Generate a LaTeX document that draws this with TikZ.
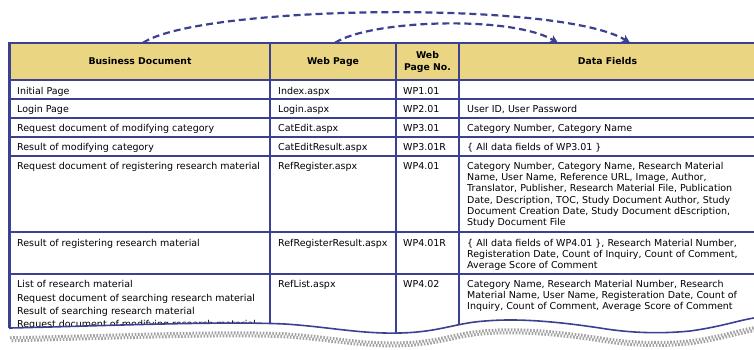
\documentclass[tikz,border=0pt]{standalone}
\usepackage{fontspec}
\setmainfont{DejaVu Sans}
\usetikzlibrary{arrows.meta}
\definecolor{rulec}{RGB}{60,64,145}
\definecolor{headc}{RGB}{234,214,130}
\definecolor{stripc}{RGB}{140,140,140}
\tikzset{
  hcell/.style={fill=headc, draw=none, inner sep=0, align=center,
    font=\fontsize{9.3}{12}\selectfont\bfseries},
  cell/.style={anchor=north west, inner sep=0, align=left,
    font=\fontsize{9.5}{11.1}\selectfont},
  listcell/.style={cell, font=\fontsize{9.5}{13.3}\selectfont},
  rowline/.style={draw=rulec, line width=1.3pt},
  colline/.style={draw=rulec, line width=1.3pt},
  frame/.style={draw=rulec, line width=2.6pt},
  wave/.style={draw=rulec, line width=1.6pt},
  strip/.style={draw=stripc!80, line width=3pt, dash pattern=on 1.6pt off 1.6pt},
  link/.style={draw=rulec, line width=2.2pt, dash pattern=on 7pt off 4pt,
    -{Stealth[length=8pt,width=8pt,inset=2pt]}},
  torn/.style={insert path={
    .. controls (100,326) and (220,321) .. (285,324)
    .. controls (330,327) and (360,334) .. (400,333)
    .. controls (440,332) and (455,323) .. (485,321)
    .. controls (520,318) and (560,322) .. (600,328)
    .. controls (630,333) and (660,334) .. (690,331)
    .. controls (720,327) and (740,320) .. (754,318)}}
}
\begin{document}
\begin{tikzpicture}[x=1pt,y=-1pt]
\useasboundingbox (0,0) rectangle (754,349);

% table body, cut off along the torn lower edge
\begin{scope}
\clip (9,40) -- (9,328) -- (10,328) [torn] -- (760,318) -- (760,40) -- cycle;

% header cells
\node[hcell, minimum width=260pt, minimum height=37pt] (hBD) at (140,61.5) {Business Document};
\node[hcell, minimum width=126pt, minimum height=37pt] (hWP) at (333,61.5) {Web Page};
\node[hcell, minimum width=63pt, minimum height=37pt] (hWN) at (427.5,61.5) {Web\\Page No.};
\node[hcell, minimum width=297pt, minimum height=37pt] (hDF) at (607.5,61.5) {Data Fields};

% row rules
\draw[rowline, line width=1.8pt] (10,80) -- (760,80);
\foreach \yy in {99,118,137,156,232,274}
  \draw[rowline] (10,\yy) -- (760,\yy);

% column rules
\draw[colline] (270,43) -- (270,340);
\draw[colline] (396,43) -- (396,340);
\draw[colline, line width=2.4pt] (459,43) -- (459,340);

% row 1
\node[cell] (a1) at (17,86.8) {Initial Page};
\node[cell] (b1) at (278,86.8) {Index.aspx};
\node[cell] (c1) at (403,86.8) {WP1.01};
% row 2
\node[cell] (a2) at (17,105.3) {Login Page};
\node[cell] (b2) at (278,105.3) {Login.aspx};
\node[cell] (c2) at (403,105.3) {WP2.01};
\node[cell] (d2) at (467,105.3) {User ID, User Password};
% row 3
\node[cell] (a3) at (17,124.3) {Request document of modifying category};
\node[cell] (b3) at (278,124.3) {CatEdit.aspx};
\node[cell] (c3) at (403,124.3) {WP3.01};
\node[cell] (d3) at (467,124.3) {Category Number, Category Name};
% row 4
\node[cell] (a4) at (17,142.8) {Result of modifying category};
\node[cell] (b4) at (278,142.8) {CatEditResult.aspx};
\node[cell] (c4) at (403,142.8) {WP3.01R};
\node[cell] (d4) at (467,142.8) {\{ All data fields of WP3.01 \}};
% row 5
\node[cell] (a5) at (17,162.3) {Request document of registering research material};
\node[cell] (b5) at (278,162.3) {RefRegister.aspx};
\node[cell] (c5) at (403,162.3) {WP4.01};
\node[cell] (d5) at (467,162.3) {Category Number, Category Name, Research Material\\
  Name, User Name, Reference URL, Image, Author,\\
  Translator, Publisher, Research Material File, Publication\\
  Date, Description, TOC, Study Document Author, Study\\
  Document Creation Date, Study Document dEscription,\\
  Study Document File};
% row 6
\node[cell] (a6) at (17,239.3) {Result of registering research material};
\node[cell] (b6) at (278,239.3) {RefRegisterResult.aspx};
\node[cell] (c6) at (403,239.3) {WP4.01R};
\node[cell] (d6) at (467,239.3) {\{ All data fields of WP4.01 \}, Research Material Number,\\
  Registeration Date, Count of Inquiry, Count of Comment,\\
  Average Score of Comment};
% row 7
\node[listcell] (a7) at (17,280.3) {List of research material\\
  Request document of searching research material\\
  Result of searching research material\\
  Request document of modifying research material};
\node[cell] (b7) at (278,280.3) {RefList.aspx};
\node[cell] (c7) at (403,280.3) {WP4.02};
\node[cell] (d7) at (467,280.3) {Category Name, Research Material Number, Research\\
  Material Name, User Name, Registeration Date, Count of\\
  Inquiry, Count of Comment, Average Score of Comment};
\end{scope}

% outer frame and torn edge
\draw[frame] (9.5,43) -- (760,43);
\draw[frame] (9.5,41.7) -- (9.5,328);
\draw[wave] (9,328) -- (10,328) [torn];
\draw[strip, shift={(0,9.8)}] (10,328) [torn];
\draw[strip, shift={(0,12.8)}, dash phase=1.6pt] (10,328) [torn];

% links from the header cells to the data fields
\coordinate (dfA) at ([xshift=-49.5pt]hDF.north);
\coordinate (dfB) at ([xshift=22.5pt]hDF.north);
\draw[link] ([xshift=3pt]hBD.north) .. controls (200,5) and (560,0) .. (dfB);
\draw[link] ([xshift=2pt]hWP.north) .. controls (370,20) and (510,15) .. (dfA);
\end{tikzpicture}
\end{document}
